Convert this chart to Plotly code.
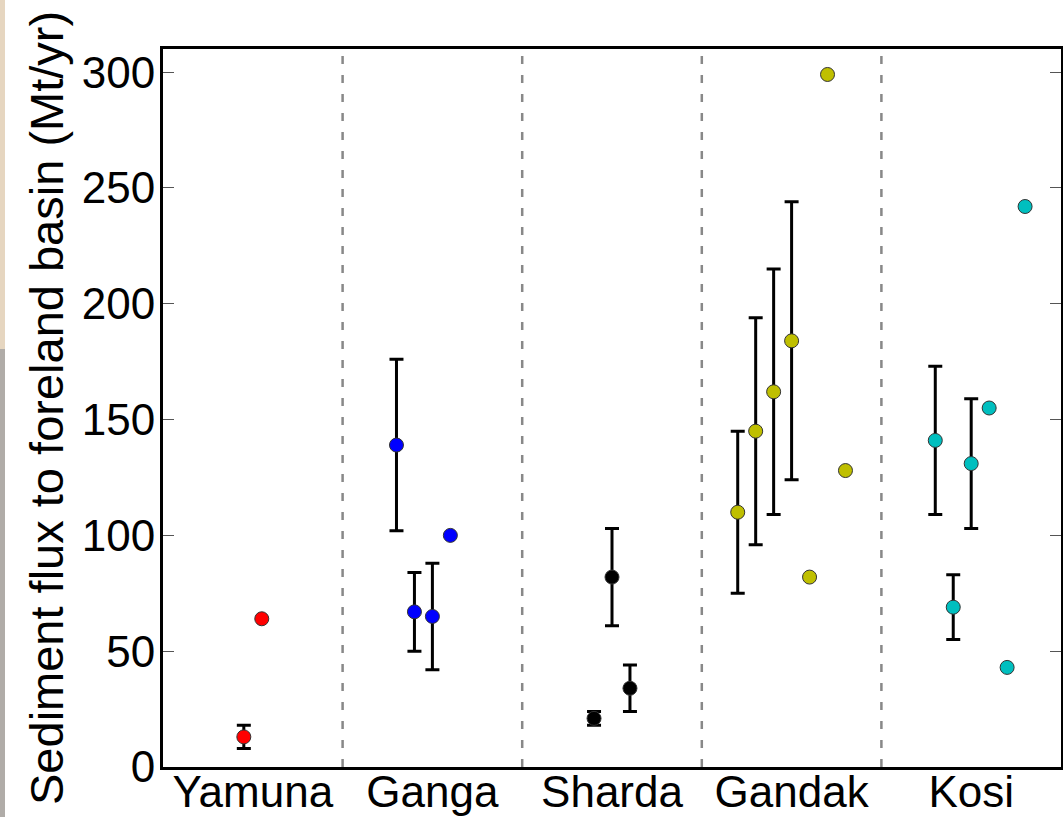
import plotly.graph_objects as go

# ---- data ----
rivers = ["Yamuna", "Ganga", "Sharda", "Gandak", "Kosi"]
tick_pos = [0.5, 1.5, 2.5, 3.5, 4.5]
y_ticks = [0, 50, 100, 150, 200, 250, 300]

# points with error bars: x position, value, symmetric error
yamuna_err_x = [0.45]
yamuna_err_y = [13]
yamuna_err_e = [5]
yamuna_x = [0.55]
yamuna_y = [64]

ganga_err_x = [1.3, 1.4, 1.5]
ganga_err_y = [139, 67, 65]
ganga_err_e = [37, 17, 23]
ganga_x = [1.6]
ganga_y = [100]

sharda_err_x = [2.4, 2.5, 2.6]
sharda_err_y = [21, 82, 34]
sharda_err_e = [3, 21, 10]
sharda_x = []
sharda_y = []

gandak_err_x = [3.2, 3.3, 3.4, 3.5]
gandak_err_y = [110, 145, 162, 184]
gandak_err_e = [35, 49, 53, 60]
gandak_x = [3.6, 3.7, 3.8]
gandak_y = [82, 299, 128]

kosi_err_x = [4.3, 4.4, 4.5]
kosi_err_y = [141, 69, 131]
kosi_err_e = [32, 14, 28]
kosi_x = [4.6, 4.7, 4.8]
kosi_y = [155, 43, 242]

separators = [1, 2, 3, 4]

colors = ["#ff0000", "#0000ff", "#000000", "#bfbf00", "#00bfbf"]

groups = [
    (yamuna_err_x, yamuna_err_y, yamuna_err_e, yamuna_x, yamuna_y),
    (ganga_err_x, ganga_err_y, ganga_err_e, ganga_x, ganga_y),
    (sharda_err_x, sharda_err_y, sharda_err_e, sharda_x, sharda_y),
    (gandak_err_x, gandak_err_y, gandak_err_e, gandak_x, gandak_y),
    (kosi_err_x, kosi_err_y, kosi_err_e, kosi_x, kosi_y),
]

fig = go.Figure()

for (ex, ey, ee, px, py), col in zip(groups, colors):
    marker = dict(size=14, color=col, line=dict(color="#333333", width=1))
    if ex:
        fig.add_trace(go.Scatter(
            x=ex, y=ey, mode="markers", marker=marker,
            error_y=dict(type="data", array=ee, visible=True,
                         color="black", thickness=3, width=7),
            showlegend=False))
    if px:
        fig.add_trace(go.Scatter(
            x=px, y=py, mode="markers", marker=marker, showlegend=False))

for s in separators:
    fig.add_shape(type="line", xref="x", yref="paper", x0=s, x1=s, y0=0, y1=1,
                  line=dict(color="#888888", width=2.5, dash="8px,11px"), layer="below")

# thin photo strip at left edge
fig.add_shape(type="rect", xref="paper", yref="paper",
              x0=-163/898, x1=-158/898, y0=-50/718, y1=(718-300)/718,
              fillcolor="#b0aca8", line=dict(width=0), layer="below")
fig.add_shape(type="rect", xref="paper", yref="paper",
              x0=-163/898, x1=-158/898, y0=(718-300)/718, y1=(718+49)/718,
              fillcolor="#e6d6c0", line=dict(width=0), layer="below")

fig.add_annotation(text="Sediment flux to foreland basin (Mt/yr)",
                   xref="paper", yref="paper", x=-(163-46)/898, y=(767-408)/718,
                   xanchor="center", yanchor="middle", textangle=-90,
                   showarrow=False, font=dict(size=47, color="black"))

fig.update_xaxes(range=[0, 5], tickmode="array", tickvals=tick_pos, ticktext=rivers,
                 ticks="", showgrid=False, zeroline=False,
                 showline=True, linecolor="black", linewidth=3, mirror=True,
                 ticklabelstandoff=-16,
                 tickfont=dict(size=44, color="black"))
fig.update_yaxes(range=[0, 310], tickmode="array", tickvals=y_ticks,
                 ticks="inside", ticklen=11, tickcolor="#555555", tickwidth=1,
                 showgrid=False, zeroline=False,
                 showline=True, linecolor="black", linewidth=3, mirror="ticks",
                 ticklabelstandoff=-4,
                 tickfont=dict(size=44, color="black"))

fig.update_layout(
    width=1063, height=817,
    margin=dict(l=163, r=2, t=49, b=50, autoexpand=False),
    paper_bgcolor="white", plot_bgcolor="white",
    font=dict(family="Liberation Sans, Arial, sans-serif", color="black"),
)

fig.write_html("out.html")
